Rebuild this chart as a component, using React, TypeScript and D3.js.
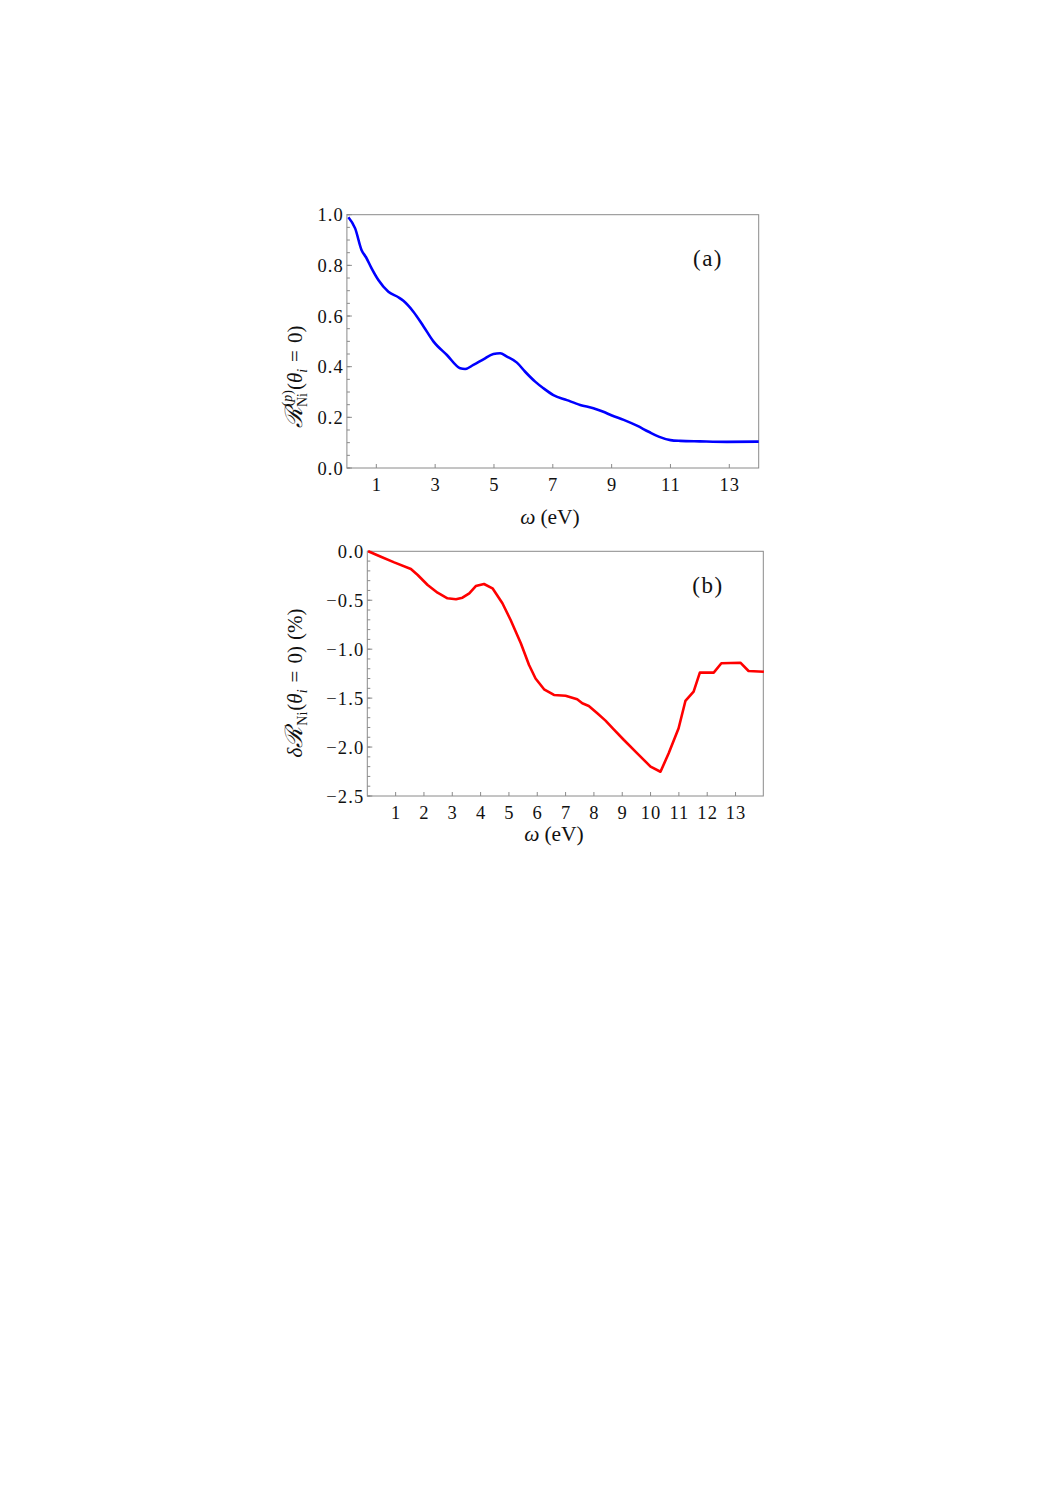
import React from "react";
import * as d3 from "d3";

// Panel (a): reflectivity R_Ni^(p)(theta_i = 0) vs omega (eV)
const omegaA = [0.05, 0.28, 0.5, 0.65, 0.84, 1.07, 1.41, 1.75, 1.92, 2.26, 2.6, 2.94, 3.4, 3.85, 4.02, 4.3, 4.64, 4.98, 5.21, 5.44, 5.78, 6.06, 6.4, 6.68, 7.02, 7.48, 7.93, 8.38, 8.72, 9.01, 9.41, 9.86, 10.26, 10.6, 11.0, 11.33, 12.0, 12.92, 14.0];
const reflA = [0.99, 0.946, 0.86, 0.832, 0.788, 0.742, 0.696, 0.674, 0.66, 0.617, 0.56, 0.5, 0.446, 0.394, 0.391, 0.407, 0.429, 0.45, 0.453, 0.44, 0.416, 0.38, 0.341, 0.315, 0.288, 0.268, 0.249, 0.236, 0.222, 0.207, 0.19, 0.167, 0.143, 0.124, 0.11, 0.107, 0.105, 0.103, 0.104];

// Panel (b): delta R_Ni(theta_i = 0) (%) vs omega (eV)
const omegaB = [0.03, 0.48, 0.95, 1.54, 1.78, 2.13, 2.48, 2.83, 3.13, 3.36, 3.6, 3.83, 4.12, 4.42, 4.77, 5.06, 5.42, 5.71, 5.94, 6.24, 6.59, 7.0, 7.41, 7.59, 7.82, 8.12, 8.41, 8.7, 9.06, 9.53, 10.0, 10.35, 10.64, 10.99, 11.23, 11.52, 11.74, 12.23, 12.5, 13.17, 13.46, 14.0];
const deltaB = [0, -0.055, -0.113, -0.181, -0.242, -0.344, -0.423, -0.48, -0.49, -0.474, -0.429, -0.355, -0.334, -0.378, -0.531, -0.702, -0.94, -1.162, -1.3, -1.41, -1.468, -1.475, -1.512, -1.553, -1.58, -1.655, -1.73, -1.819, -1.928, -2.064, -2.2, -2.252, -2.064, -1.808, -1.529, -1.434, -1.24, -1.24, -1.144, -1.138, -1.223, -1.23];

const xTicksA = [1, 3, 5, 7, 9, 11, 13];
const yTicksA = [0, 0.2, 0.4, 0.6, 0.8, 1.0];
const xTicksB = [1, 2, 3, 4, 5, 6, 7, 8, 9, 10, 11, 12, 13];
const yTicksB = [0, -0.5, -1.0, -1.5, -2.0, -2.5];

const FONT = "'Liberation Serif', 'Times New Roman', serif";
const FRAME = "#8a8a8a";
const INK = "#111";

const fmtY = (v: number) => (v < 0 ? "\u2212" + Math.abs(v).toFixed(1) : v.toFixed(1));

type PanelProps = {
  left: number; right: number; top: number; bottom: number;
  xDomain: [number, number]; yDomain: [number, number];
  xs: number[]; ys: number[]; color: string;
  xTicks: number[]; yTicks: number[]; yMinorStep: number;
  curve: d3.CurveFactory; tag: string; tagX: number; tagY: number;
  xLabelX: number; xLabelY: number; tickLabelY: number;
};

function Panel(p: PanelProps) {
  const x = d3.scaleLinear().domain(p.xDomain).range([p.left, p.right]);
  const y = d3.scaleLinear().domain(p.yDomain).range([p.bottom, p.top]);
  const pts = p.xs.map((v, i) => [v, p.ys[i]] as [number, number]);
  const line = d3.line<[number, number]>().x(d => x(d[0])).y(d => y(d[1])).curve(p.curve);
  const [y0, y1] = p.yDomain;
  const minor: number[] = [];
  const n = Math.round((y1 - y0) / p.yMinorStep);
  for (let i = 0; i <= n; i++) minor.push(y0 + i * p.yMinorStep);
  const clipId = "clip-" + p.tag.replace(/[()]/g, "");
  return (
    <g>
      <defs>
        <clipPath id={clipId}>
          <rect x={p.left} y={p.top - 3} width={p.right - p.left + 3} height={p.bottom - p.top + 3} />
        </clipPath>
      </defs>
      {minor.map((v, i) => (
        <line key={"m" + i} x1={p.left} x2={p.left + 3} y1={y(v)} y2={y(v)} stroke={FRAME} strokeWidth={1} />
      ))}
      {p.yTicks.map((v, i) => (
        <g key={"y" + i}>
          <line x1={p.left} x2={p.left + 5} y1={y(v)} y2={y(v)} stroke={FRAME} strokeWidth={1} />
          <text x={p.left - 3} y={y(v)} dy="0.36em" textAnchor="end" fontFamily={FONT} fontSize={18.5} letterSpacing={1.1} fill={INK}>
            {fmtY(v)}
          </text>
        </g>
      ))}
      {p.xTicks.map((v, i) => (
        <g key={"x" + i}>
          <line x1={x(v)} x2={x(v)} y1={p.bottom} y2={p.bottom - 4} stroke={FRAME} strokeWidth={1} />
          <text x={x(v) + 0.5} y={p.tickLabelY} textAnchor="middle" fontFamily={FONT} fontSize={18.5} letterSpacing={1.1} fill={INK}>
            {v}
          </text>
        </g>
      ))}
      <rect x={p.left} y={p.top} width={p.right - p.left} height={p.bottom - p.top} fill="none" stroke={FRAME} strokeWidth={1} />
      <path d={line(pts) || ""} fill="none" stroke={p.color} strokeWidth={2.6} strokeLinejoin="round" clipPath={`url(#${clipId})`} />
      <text x={p.tagX} y={p.tagY} textAnchor="middle" fontFamily={FONT} fontSize={23} letterSpacing={1.5} fill={INK}>
        {p.tag}
      </text>
      <text x={p.xLabelX} y={p.xLabelY} textAnchor="middle" fontFamily={FONT} fontSize={21.5} fill={INK}>
        <tspan fontStyle="italic">ω</tspan>
        <tspan dx={5}>(eV)</tspan>
      </text>
    </g>
  );
}

export default function App() {
  return (
    <svg width={1059} height={1498} style={{ position: "absolute", left: 0, top: 0, display: "block", background: "#fff" }}>
      <Panel
        left={346.9} right={758.7} top={214.7} bottom={468}
        xDomain={[0, 14]} yDomain={[0, 1]}
        xs={omegaA} ys={reflA} color="#0000ff"
        xTicks={xTicksA} yTicks={yTicksA} yMinorStep={0.05}
        curve={d3.curveMonotoneX} tag="(a)" tagX={708} tagY={266}
        xLabelX={550} xLabelY={524} tickLabelY={491}
      />
      <Panel
        left={367.3} right={763.3} top={551.3} bottom={796}
        xDomain={[0, 13.98]} yDomain={[-2.5, 0]}
        xs={omegaB} ys={deltaB} color="#ff0000"
        xTicks={xTicksB} yTicks={yTicksB} yMinorStep={0.1}
        curve={d3.curveLinear} tag="(b)" tagX={708} tagY={593}
        xLabelX={554} xLabelY={841} tickLabelY={819}
      />
      {/* y label (a) */}
      <text transform="translate(302,377) rotate(-90)" textAnchor="middle" fontFamily={FONT} fontSize={21} fill={INK}>
        <tspan fontStyle="italic" fontSize={24}>ℛ</tspan>
        <tspan fontSize={14} dx={1} dy={-10}>(</tspan>
        <tspan fontSize={14} fontStyle="italic">p</tspan>
        <tspan fontSize={14}>)</tspan>
        <tspan fontSize={14} dx={-17} dy={15}>Ni</tspan>
        <tspan dx={3} dy={-5}>(</tspan>
        <tspan fontStyle="italic">θ</tspan>
        <tspan fontSize={14} fontStyle="italic" dy={5}>i</tspan>
        <tspan dx={7} dy={-5}>=</tspan>
        <tspan dx={7}>0)</tspan>
      </text>
      {/* y label (b) */}
      <text transform="translate(302,683) rotate(-90)" textAnchor="middle" fontFamily={FONT} fontSize={21} fill={INK}>
        <tspan fontStyle="italic">δ</tspan>
        <tspan fontStyle="italic" fontSize={24}>ℛ</tspan>
        <tspan fontSize={14} dx={1} dy={5}>Ni</tspan>
        <tspan dx={1} dy={-5}>(</tspan>
        <tspan fontStyle="italic">θ</tspan>
        <tspan fontSize={14} fontStyle="italic" dy={5}>i</tspan>
        <tspan dx={7} dy={-5}>=</tspan>
        <tspan dx={7}>0)</tspan>
        <tspan dx={6}>(%)</tspan>
      </text>
    </svg>
  );
}
